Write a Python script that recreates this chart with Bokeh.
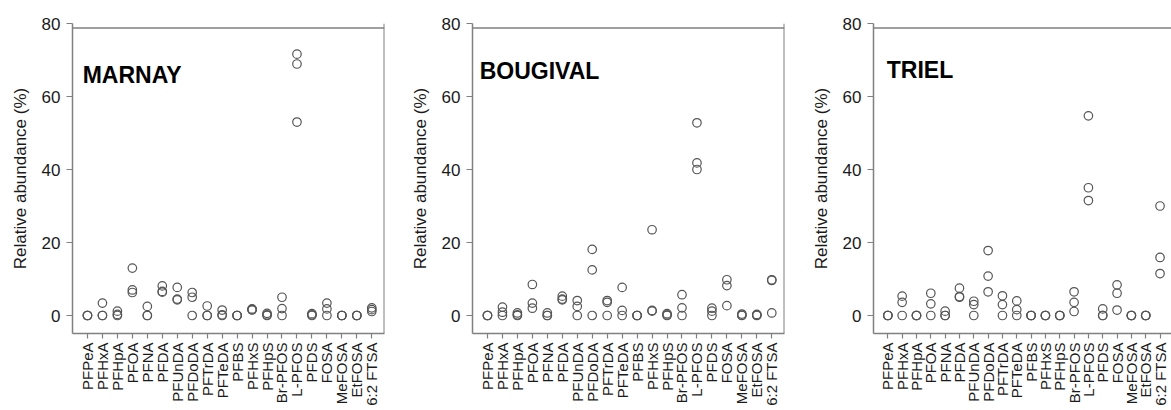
import math
from bokeh.plotting import figure
from bokeh.models import Range1d, FixedTicker, Span, Label
from bokeh.layouts import row
from bokeh.embed import file_html
from bokeh.resources import INLINE

categories = ["PFPeA", "PFHxA", "PFHpA", "PFOA", "PFNA", "PFDA", "PFUnDA", "PFDoDA",
              "PFTrDA", "PFTeDA", "PFBS", "PFHxS", "PFHpS", "Br-PFOS", "L-PFOS",
              "PFDS", "FOSA", "MeFOSA", "EtFOSA", "6:2 FTSA"]

y_ticks = [0, 20, 40, 60, 80]

# three samples per compound, relative abundance (%)
marnay = [
    [0, 0, 0], [3.4, 0, 0], [1.2, 0.3, 0], [13.0, 7.0, 6.3], [2.5, 0, 0],
    [8.1, 6.6, 6.4], [7.7, 4.5, 4.3], [6.3, 5.0, 0], [2.6, 0, 0], [1.5, 0.2, 0],
    [0, 0, 0], [1.8, 1.6, 1.5], [0.6, 0.2, 0], [5.0, 1.9, 0], [71.6, 68.9, 53.0],
    [0.5, 0.2, 0], [3.4, 1.8, 0], [0, 0, 0], [0, 0, 0], [2.1, 1.6, 1.1],
]

bougival = [
    [0, 0, 0], [2.3, 0.9, 0], [0.7, 0.2, 0], [8.5, 3.4, 2.0], [0.7, 0, 0],
    [5.3, 4.5, 4.3], [4.1, 2.5, 0], [18.1, 12.5, 0], [4.1, 3.6, 0], [7.7, 1.4, 0],
    [0, 0, 0], [23.5, 1.4, 1.2], [0.5, 0.2, 0], [5.7, 2.1, 0], [52.8, 41.8, 40.0],
    [2.0, 1.2, 0], [9.8, 8.2, 2.7], [0.4, 0.1, 0], [0.3, 0.1, 0], [9.8, 9.6, 0.7],
]

triel = [
    [0, 0, 0], [5.3, 3.6, 0], [0, 0, 0], [6.1, 3.2, 0], [1.2, 0, 0],
    [7.5, 5.2, 5.0], [3.9, 3.0, 0], [17.8, 10.8, 6.5], [5.4, 3.0, 0], [4.0, 1.6, 0],
    [0, 0, 0], [0, 0, 0], [0, 0, 0], [6.5, 3.6, 1.1], [54.7, 35.0, 31.5],
    [1.8, 0, 0], [8.4, 6.1, 1.5], [0, 0, 0], [0, 0, 0], [30.0, 15.9, 11.5],
]

FONT = "Liberation Sans"
AXIS_COLOR = "#808080"


def make_panel(title, values, width, b_left, b_right, x_end, right_line, title_x, title_y):
    p = figure(width=width, height=410, output_backend="svg", toolbar_location=None,
               x_range=Range1d(-1.0, x_end), y_range=Range1d(-4.93, 80),
               min_border_left=b_left, min_border_right=b_right,
               min_border_top=23, min_border_bottom=77)
    p.xgrid.visible = False
    p.ygrid.visible = False
    p.outline_line_color = None

    xs, ys = [], []
    for i, vals in enumerate(values):
        for v in vals:
            xs.append(i)
            ys.append(v)
    p.scatter(xs, ys, marker="circle", size=8.5, fill_color=None,
              line_color="#555555", line_width=1.2)

    # y axis
    p.yaxis.ticker = FixedTicker(ticks=y_ticks)
    p.yaxis.minor_tick_line_color = None
    p.yaxis.major_tick_out = 6
    p.yaxis.major_tick_in = 0
    p.yaxis.axis_line_color = AXIS_COLOR
    p.yaxis.axis_line_width = 1.5
    p.yaxis.major_tick_line_color = AXIS_COLOR
    p.yaxis.major_tick_line_width = 1.2
    p.yaxis.major_label_text_font = FONT
    p.yaxis.major_label_text_font_size = "17px"
    p.yaxis.major_label_text_color = "#1a1a1a"
    p.yaxis.major_label_standoff = 6
    p.yaxis.axis_label = "Relative abundance (%)"
    p.yaxis.axis_label_text_font = FONT
    p.yaxis.axis_label_text_font_size = "17px"
    p.yaxis.axis_label_text_font_style = "normal"
    p.yaxis.axis_label_text_color = "#1a1a1a"
    p.yaxis.axis_label_standoff = 9

    # x axis with compound names
    p.xaxis.ticker = FixedTicker(ticks=list(range(len(categories))))
    p.xaxis.major_label_overrides = {i: c for i, c in enumerate(categories)}
    p.xaxis.major_label_orientation = math.pi / 2
    p.xaxis.minor_tick_line_color = None
    p.xaxis.major_tick_out = 5
    p.xaxis.major_tick_in = 0
    p.xaxis.axis_line_color = AXIS_COLOR
    p.xaxis.axis_line_width = 1.5
    p.xaxis.major_tick_line_color = AXIS_COLOR
    p.xaxis.major_tick_line_width = 1.2
    p.xaxis.major_label_text_font = FONT
    p.xaxis.major_label_text_font_size = "15px"
    p.xaxis.major_label_text_color = "#1a1a1a"
    p.xaxis.major_label_standoff = 4

    # box lines
    p.add_layout(Span(location=78.74, dimension="width", line_color=AXIS_COLOR, line_width=1.5))
    if right_line:
        p.add_layout(Span(location=x_end, dimension="height", line_color=AXIS_COLOR, line_width=2))

    p.add_layout(Label(x=title_x, y=title_y, text=title, text_font=FONT,
                       text_font_style="bold", text_font_size="23px", text_color="black"))
    return p


p1 = make_panel("MARNAY", marnay, 400, 72, 16, 19.85, True, -0.32, 62.2)
p2 = make_panel("BOUGIVAL", bougival, 390, 72, 6, 19.85, True, -0.52, 63.3)
p3 = make_panel("TRIEL", triel, 381, 83, 0, 19.8, False, -0.07, 63.6)

layout = row(p1, p2, p3)
open("out.html", "w").write(file_html(layout, INLINE))
